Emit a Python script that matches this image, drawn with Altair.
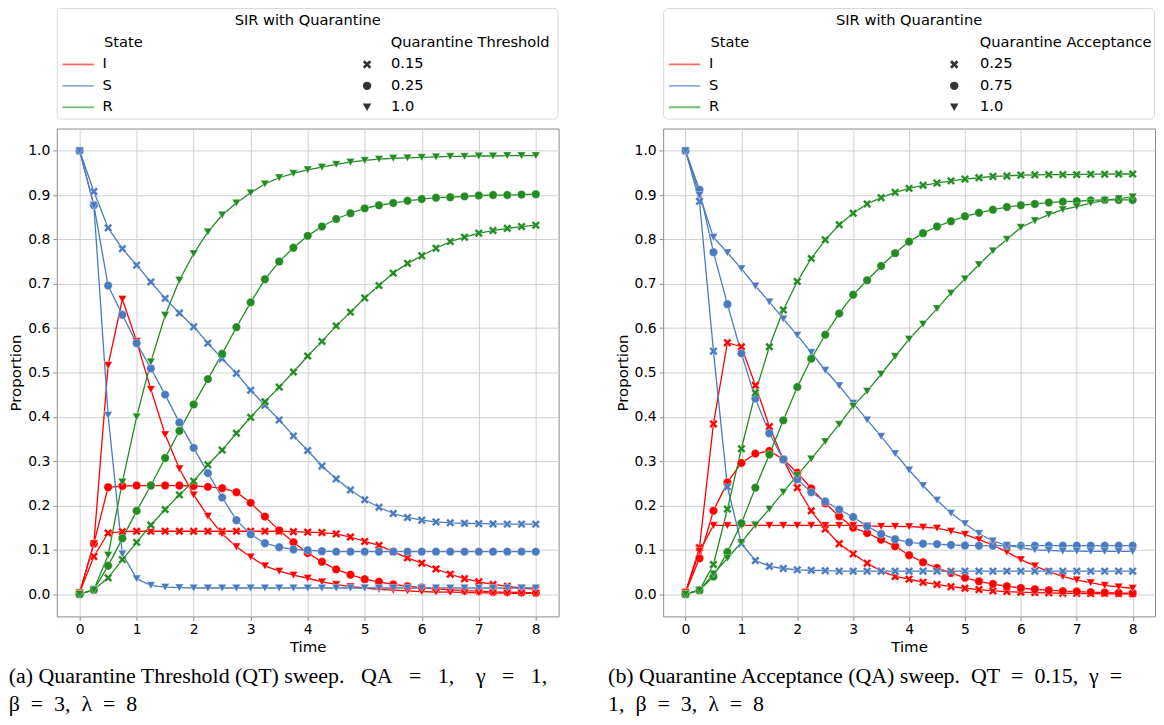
import altair as alt
import pandas as pd

# ---------------- data ----------------
TIME = [0.0, 0.25, 0.5, 0.75, 1.0, 1.25, 1.5, 1.75, 2.0, 2.25, 2.5, 2.75, 3.0,
        3.25, 3.5, 3.75, 4.0, 4.25, 4.5, 4.75, 5.0, 5.25, 5.5, 5.75, 6.0,
        6.25, 6.5, 6.75, 7.0, 7.25, 7.5, 7.75, 8.0]

STATES = ["I", "S", "R"]
STATE_COLORS = ["#ff0000", "#4a7abf", "#228b22"]

# (a) Quarantine Threshold sweep
QT_LEVELS = ["0.15", "0.25", "1.0"]
A_I_015 = [0.003, 0.085, 0.138, 0.141, 0.142, 0.142, 0.142, 0.142, 0.142, 0.142, 0.142,
           0.142, 0.142, 0.142, 0.142, 0.141, 0.140, 0.139, 0.136, 0.129, 0.119, 0.110,
           0.096, 0.082, 0.070, 0.057, 0.045, 0.035, 0.028, 0.022, 0.018, 0.014, 0.011]
A_I_025 = [0.003, 0.114, 0.241, 0.244, 0.245, 0.245, 0.245, 0.245, 0.244, 0.242, 0.239,
           0.230, 0.206, 0.175, 0.144, 0.117, 0.093, 0.073, 0.056, 0.044, 0.034, 0.028,
           0.022, 0.018, 0.015, 0.012, 0.010, 0.008, 0.007, 0.005, 0.0045, 0.004, 0.003]
A_I_100 = [0.003, 0.114, 0.516, 0.665, 0.570, 0.462, 0.360, 0.283, 0.224, 0.176, 0.136,
           0.107, 0.084, 0.064, 0.052, 0.043, 0.036, 0.028, 0.022, 0.017, 0.014, 0.011,
           0.009, 0.0075, 0.006, 0.005, 0.0045, 0.004, 0.003, 0.003, 0.002, 0.002, 0.002]
A_S_015 = [1.0, 0.908, 0.826, 0.779, 0.742, 0.704, 0.667, 0.634, 0.603, 0.566, 0.531,
           0.498, 0.460, 0.426, 0.393, 0.357, 0.324, 0.289, 0.260, 0.235, 0.213, 0.196,
           0.182, 0.173, 0.167, 0.163, 0.161, 0.160, 0.159, 0.1585, 0.158, 0.158, 0.158]
A_S_025 = [1.0, 0.877, 0.696, 0.630, 0.566, 0.509, 0.450, 0.387, 0.330, 0.273, 0.218,
           0.167, 0.135, 0.115, 0.106, 0.101, 0.099, 0.097, 0.096, 0.096, 0.096, 0.096,
           0.096, 0.096, 0.096, 0.096, 0.096, 0.096, 0.096, 0.096, 0.096, 0.096, 0.096]
A_S_100 = [1.0, 0.877, 0.404, 0.091, 0.035, 0.020, 0.016, 0.015, 0.014, 0.014, 0.014,
           0.014, 0.014, 0.014, 0.014, 0.014, 0.014, 0.014, 0.014, 0.014, 0.014, 0.014,
           0.014, 0.014, 0.014, 0.014, 0.014, 0.014, 0.014, 0.014, 0.014, 0.014, 0.014]
A_R_015 = [0.0, 0.010, 0.037, 0.078, 0.117, 0.156, 0.191, 0.224, 0.255, 0.292, 0.325,
           0.363, 0.399, 0.434, 0.467, 0.501, 0.537, 0.570, 0.605, 0.636, 0.668, 0.696,
           0.724, 0.746, 0.763, 0.780, 0.795, 0.805, 0.814, 0.820, 0.825, 0.829, 0.832]
A_R_025 = [0.0, 0.010, 0.064, 0.126, 0.188, 0.245, 0.307, 0.368, 0.428, 0.485, 0.542,
           0.602, 0.658, 0.710, 0.750, 0.781, 0.808, 0.829, 0.846, 0.859, 0.870, 0.877,
           0.882, 0.887, 0.891, 0.894, 0.895, 0.897, 0.899, 0.900, 0.900, 0.901, 0.902]
A_R_100 = [0.0, 0.010, 0.088, 0.253, 0.400, 0.524, 0.629, 0.708, 0.768, 0.817, 0.855,
           0.882, 0.905, 0.925, 0.939, 0.949, 0.957, 0.963, 0.969, 0.974, 0.978, 0.981,
           0.983, 0.984, 0.985, 0.986, 0.987, 0.987, 0.988, 0.988, 0.989, 0.989, 0.989]

# (b) Quarantine Acceptance sweep
QA_LEVELS = ["0.25", "0.75", "1.0"]
B_I_025 = [0.004, 0.105, 0.384, 0.567, 0.558, 0.471, 0.378, 0.304, 0.240, 0.188, 0.147,
           0.114, 0.091, 0.070, 0.052, 0.040, 0.034, 0.027, 0.022, 0.017, 0.0135, 0.0105,
           0.0075, 0.006, 0.0045, 0.0037, 0.003, 0.0022, 0.002, 0.0015, 0.0015, 0.001, 0.001]
B_I_075 = [0.004, 0.081, 0.188, 0.252, 0.296, 0.317, 0.323, 0.304, 0.274, 0.2385, 0.205,
           0.176, 0.150, 0.138, 0.123, 0.108, 0.088, 0.072, 0.059, 0.048, 0.037, 0.029,
           0.023, 0.018, 0.014, 0.011, 0.009, 0.007, 0.006, 0.0045, 0.0037, 0.003, 0.002]
B_I_100 = [0.004, 0.097, 0.155, 0.155, 0.155, 0.155, 0.155, 0.155, 0.155, 0.155, 0.155,
           0.155, 0.155, 0.154, 0.153, 0.153, 0.1525, 0.151, 0.149, 0.142, 0.135, 0.123,
           0.111, 0.095, 0.078, 0.064, 0.051, 0.040, 0.032, 0.026, 0.020, 0.0165, 0.0135]
B_S_025 = [1.0, 0.886, 0.548, 0.242, 0.114, 0.076, 0.063, 0.058, 0.055, 0.054, 0.053,
           0.052, 0.052, 0.052, 0.052, 0.052, 0.052, 0.052, 0.052, 0.052, 0.052, 0.052,
           0.052, 0.052, 0.052, 0.052, 0.052, 0.052, 0.052, 0.052, 0.052, 0.052, 0.052]
B_S_075 = [1.0, 0.912, 0.771, 0.654, 0.543, 0.441, 0.363, 0.304, 0.259, 0.230, 0.209,
           0.191, 0.174, 0.153, 0.136, 0.124, 0.117, 0.114, 0.113, 0.111, 0.110, 0.1095,
           0.1095, 0.1095, 0.1095, 0.1095, 0.1095, 0.1095, 0.1095, 0.1095, 0.1095, 0.1095, 0.1095]
B_S_100 = [1.0, 0.900, 0.805, 0.770, 0.734, 0.695, 0.659, 0.621, 0.584, 0.545, 0.505,
           0.470, 0.431, 0.393, 0.356, 0.317, 0.280, 0.245, 0.212, 0.183, 0.159, 0.137,
           0.120, 0.110, 0.105, 0.100, 0.099, 0.097, 0.097, 0.0965, 0.0965, 0.0965, 0.0965]
B_R_025 = [0.0, 0.009, 0.067, 0.192, 0.328, 0.454, 0.558, 0.641, 0.705, 0.757, 0.799,
           0.833, 0.859, 0.880, 0.894, 0.906, 0.915, 0.922, 0.927, 0.932, 0.936, 0.939,
           0.942, 0.943, 0.945, 0.9455, 0.946, 0.946, 0.946, 0.947, 0.947, 0.9475, 0.9475]
B_R_075 = [0.0, 0.009, 0.040, 0.095, 0.160, 0.240, 0.315, 0.392, 0.467, 0.531, 0.585,
           0.633, 0.675, 0.708, 0.740, 0.769, 0.795, 0.814, 0.829, 0.841, 0.852, 0.860,
           0.867, 0.873, 0.877, 0.880, 0.883, 0.885, 0.886, 0.888, 0.889, 0.889, 0.889]
B_R_100 = [0.0, 0.009, 0.046, 0.081, 0.117, 0.156, 0.192, 0.230, 0.268, 0.305, 0.344,
           0.383, 0.424, 0.458, 0.496, 0.536, 0.575, 0.609, 0.644, 0.679, 0.711, 0.743,
           0.774, 0.800, 0.827, 0.842, 0.856, 0.867, 0.874, 0.882, 0.888, 0.892, 0.896]

X_TICKS = [0, 1, 2, 3, 4, 5, 6, 7, 8]
Y_TICKS = [0.0, 0.1, 0.2, 0.3, 0.4, 0.5, 0.6, 0.7, 0.8, 0.9, 1.0]

HEADING = "SIR with Quarantine"
STATE_HEADING = "State"
NB = "\u00a0"
CAPTION_A = [
    "(a) Quarantine Threshold (QT) sweep." + NB * 3 + "QA" + NB * 3 + "=" + NB * 3
    + "1," + NB * 4 + "γ" + NB * 3 + "=" + NB * 3 + "1,",
    "β" + NB * 2 + "=" + NB * 2 + "3," + NB * 2 + "λ" + NB * 2 + "=" + NB * 2 + "8",
]
CAPTION_B = [
    "(b) Quarantine Acceptance (QA) sweep." + NB * 2 + "QT" + NB * 2 + "=" + NB * 2
    + "0.15," + NB * 2 + "γ" + NB * 2 + "=",
    "1," + NB * 2 + "β" + NB * 2 + "=" + NB * 2 + "3," + NB * 2 + "λ" + NB * 2 + "="
    + NB * 2 + "8",
]

# ---------------- helpers ----------------
FONT = "DejaVu Sans"
X_PATH = ("M-1,-0.55L-0.55,-1L0,-0.45L0.55,-1L1,-0.55L0.45,0L1,0.55L0.55,1"
          "L0,0.45L-0.55,1L-1,0.55L-0.45,0Z")


def long_table(series):
    rows = []
    for (state, level), vals in series.items():
        for t, v in zip(TIME, vals):
            rows.append({"t": t, "value": v, "state": state, "param": level})
    return pd.DataFrame(rows)


data_a = long_table({
    ("I", "0.15"): A_I_015, ("I", "0.25"): A_I_025, ("I", "1.0"): A_I_100,
    ("S", "0.15"): A_S_015, ("S", "0.25"): A_S_025, ("S", "1.0"): A_S_100,
    ("R", "0.15"): A_R_015, ("R", "0.25"): A_R_025, ("R", "1.0"): A_R_100,
})
data_b = long_table({
    ("I", "0.25"): B_I_025, ("I", "0.75"): B_I_075, ("I", "1.0"): B_I_100,
    ("S", "0.25"): B_S_025, ("S", "0.75"): B_S_075, ("S", "1.0"): B_S_100,
    ("R", "0.25"): B_R_025, ("R", "0.75"): B_R_075, ("R", "1.0"): B_R_100,
})

H = 490
LEG_FS = 14.7


def text_layer(label, x, y, align):
    return alt.Chart(alt.Data(values=[{}])).mark_text(
        text=label, font=FONT, fontSize=LEG_FS, color="black",
        align=align, baseline="middle"
    ).encode(x=alt.value(x), y=alt.value(y))


def panel(df, levels, shape_title, caption, width, shape_x, shape_off, shape_sub_x,
          cap_dx):
    x = alt.X("t:Q", title="Time",
              scale=alt.Scale(domain=[-0.4, 8.4], nice=False, zero=False),
              axis=alt.Axis(values=X_TICKS, format="d"))
    y = alt.Y("value:Q", title="Proportion",
              scale=alt.Scale(domain=[-0.05, 1.05], nice=False, zero=False),
              axis=alt.Axis(values=Y_TICKS, format=".1f"))

    box = alt.Chart(alt.Data(values=[{}])).mark_rect(
        fill="white", stroke="#d8d8d8", strokeWidth=1, cornerRadius=4
    ).encode(x=alt.value(0.5), x2=alt.value(width - 0.5),
             y=alt.value(-120.5), y2=alt.value(-9.5))

    heading = text_layer(HEADING, width / 2, -108.3, "center")
    sub_state = text_layer(STATE_HEADING, 47.5, -86, "left")
    sub_shape = text_layer(shape_title, shape_sub_x, -86, "left")

    lines = alt.Chart(df).mark_line(strokeWidth=1.3).encode(
        x=x, y=y,
        color=alt.Color("state:N",
                        scale=alt.Scale(domain=STATES, range=STATE_COLORS),
                        legend=alt.Legend(
                            title=None, orient="none",
                            legendX=4.5, legendY=-71.6,
                            symbolType="stroke", symbolSize=992,
                            symbolStrokeWidth=1.8, symbolOpacity=0.6,
                            labelOffset=7.5, clipHeight=14.5, rowPadding=5.5,
                            padding=0)),
        detail="param:N",
    )

    points = alt.Chart(df).mark_point(
        filled=True, size=72, opacity=1, stroke="white",
        strokeWidth=0.6, strokeOpacity=0.6
    ).encode(
        x=x, y=y,
        color=alt.Color("state:N", legend=None),
        shape=alt.Shape("param:N",
                        scale=alt.Scale(domain=levels,
                                        range=[X_PATH, "circle", "triangle-down"]),
                        legend=alt.Legend(
                            title=None, orient="none",
                            legendX=shape_x, legendY=-71.6,
                            symbolFillColor="#333333", symbolStrokeWidth=0,
                            symbolSize=72, labelOffset=shape_off, clipHeight=14.5,
                            rowPadding=5.5, padding=0)),
    )

    return alt.layer(box, heading, sub_state, sub_shape, lines, points).properties(
        width=width, height=H,
        title=alt.TitleParams(
            text=caption, orient="bottom", anchor="start", frame="bounds",
            font="Liberation Serif", fontSize=22, fontWeight="normal",
            lineHeight=28, offset=12, color="black", dx=cap_dx),
    ).resolve_scale(color="shared", shape="shared")


left = panel(data_a, QT_LEVELS, "Quarantine Threshold", CAPTION_A, 504,
             304.3, 16.7, 335.5, 0)
right = panel(data_b, QA_LEVELS, "Quarantine Acceptance", CAPTION_B, 494,
              285.0, 18.5, 318.0, -7)

chart = alt.hconcat(left, right, spacing=48).resolve_scale(
    color="independent", shape="independent", x="independent", y="independent"
).resolve_legend(color="independent", shape="independent").properties(
    padding={"left": 0, "top": -2.5, "right": 0, "bottom": 0}
).configure_view(
    stroke="#8a8a8a", strokeWidth=1
).configure_axis(
    labelFont=FONT, labelFontSize=14, labelColor="black",
    titleFont=FONT, titleFontSize=15, titleFontWeight="normal", titleColor="black",
    tickColor="#8a8a8a", tickSize=4, gridColor="#d0d0d0", gridWidth=1, domain=False
).configure_axisX(
    labelPadding=2, titlePadding=3
).configure_axisY(
    labelPadding=3, titlePadding=4
).configure_legend(
    labelFont=FONT, labelFontSize=LEG_FS, labelColor="black",
    titleFont=FONT, titleFontSize=LEG_FS, titleFontWeight="normal", titleColor="black"
)

chart.save("out.html", embed_options={"renderer": "svg", "actions": False})
